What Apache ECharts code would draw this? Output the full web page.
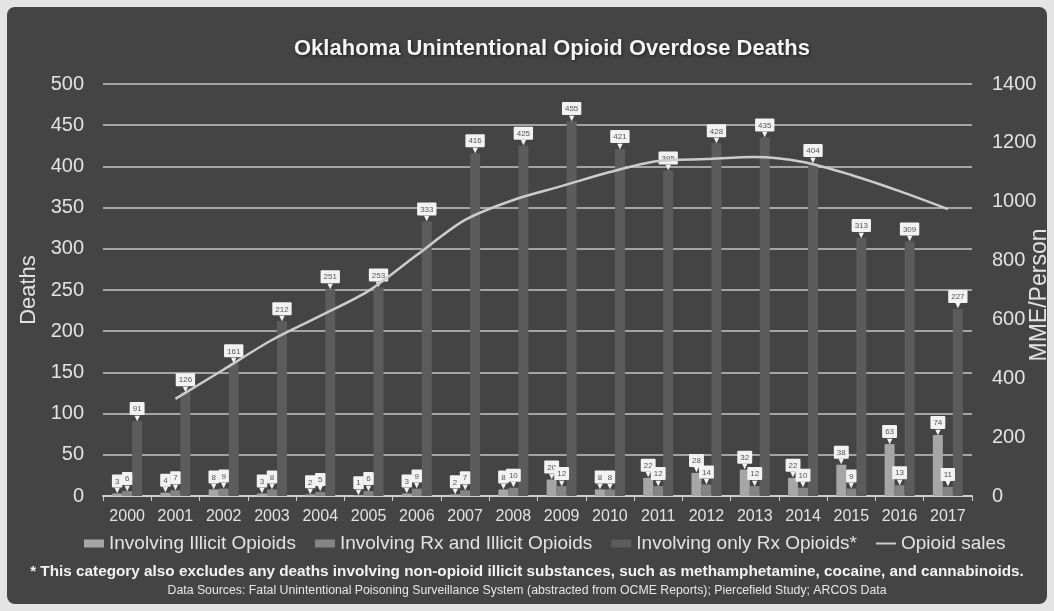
<!DOCTYPE html>
<html>
<head>
<meta charset="utf-8">
<script src="https://cdn.jsdelivr.net/npm/echarts@6/dist/echarts.min.js"></script>
<style>
  html, body { margin: 0; padding: 0; background: #e4e4e4; }
  #chart { width: 1054px; height: 611px; }
</style>
</head>
<body>
<div id="chart"></div>
<script>
// Years on the category axis
const years = ['2000', '2001', '2002', '2003', '2004', '2005', '2006', '2007', '2008',
               '2009', '2010', '2011', '2012', '2013', '2014', '2015', '2016', '2017'];

// Deaths per year, by substance category
const illicitOpioids = [3, 4, 8, 3, 2, 1, 3, 2, 8, 20, 8, 22, 28, 32, 22, 38, 63, 74];
const rxAndIllicit   = [6, 7, 9, 8, 5, 6, 9, 7, 10, 12, 8, 12, 14, 12, 10, 9, 13, 11];
const onlyRxOpioids  = [91, 126, 161, 212, 251, 253, 333, 416, 425, 455, 421, 395, 428, 435, 404, 313, 309, 227];

// Opioid sales, MME per person (right axis)
const opioidSales = [null, 330, 430, 530, 612, 697, 819, 938, 1006, 1053, 1101, 1138, 1145, 1152, 1135, 1091, 1036, 975];

// Axis ticks
const deathsMax = 500, deathsStep = 50;
const mmeMax = 1400, mmeStep = 200;

const textFont = 'Liberation Sans, Arial, sans-serif';
const tickColor = '#e2e2e2';

// White callout box with a small pointer under it
function callout() {
  return {
    show: true,
    position: 'top',
    distance: 0,
    formatter: p => '{box|' + p.value + '}\n{tip|▼}',
    rich: {
      box: {
        backgroundColor: '#f2f2f2',
        color: '#555',
        fontSize: 8,
        fontFamily: textFont,
        padding: [3, 3, 2, 3],
        borderRadius: 1,
        align: 'center'
      },
      tip: {
        color: '#f2f2f2',
        fontSize: 9,
        lineHeight: 6,
        align: 'center'
      }
    }
  };
}

const chart = echarts.init(document.getElementById('chart'), null, { renderer: 'canvas' });

chart.setOption({
  backgroundColor: '#e4e4e4',
  animation: false,
  graphic: [
    {
      type: 'rect',
      z: -10,
      shape: { x: 7, y: 7, width: 1040, height: 597, r: 8 },
      style: { fill: '#444444' }
    },
    {
      // right axis title
      type: 'text',
      x: 1028,
      y: 295,
      rotation: Math.PI / 2,
      style: {
        text: 'MME/Person',
        fill: tickColor,
        font: '23px ' + textFont,
        align: 'center',
        verticalAlign: 'top'
      }
    },
    {
      type: 'text',
      left: 'center',
      top: 564,
      style: {
        text: '* This category also excludes any deaths involving non-opioid illicit substances, such as methamphetamine, cocaine, and cannabinoids.',
        fill: '#f2f2f2',
        font: 'bold 15.3px ' + textFont
      }
    },
    {
      type: 'text',
      left: 'center',
      top: 585,
      style: {
        text: 'Data Sources: Fatal Unintentional Poisoning Surveillance System (abstracted from OCME Reports); Piercefield Study; ARCOS Data',
        fill: '#e6e6e6',
        font: '12.3px ' + textFont
      }
    }
  ],
  title: {
    text: 'Oklahoma Unintentional Opioid Overdose Deaths',
    left: 289,
    top: 33,
    textStyle: {
      color: '#f4f4f4',
      fontSize: 22,
      fontWeight: 'bold',
      fontFamily: textFont,
      textShadowColor: 'rgba(0,0,0,0.6)',
      textShadowBlur: 3,
      textShadowOffsetX: 1,
      textShadowOffsetY: 1
    }
  },
  legend: {
    bottom: 53,
    left: 79,
    itemWidth: 20,
    itemHeight: 8,
    itemGap: 19,
    textStyle: { color: '#e2e2e2', fontSize: 19, fontFamily: textFont },
    data: [
      { name: 'Involving Illicit Opioids', icon: 'rect' },
      { name: 'Involving Rx and Illicit Opioids', icon: 'rect' },
      { name: 'Involving only Rx Opioids*', icon: 'rect' },
      { name: 'Opioid sales', icon: 'path://M0,3 L20,3 L20,5 L0,5 Z' }
    ]
  },
  grid: { left: 103, right: 82, top: 84, bottom: 115, containLabel: false, outerBoundsMode: 'none' },
  xAxis: {
    type: 'category',
    data: years,
    axisLine: { lineStyle: { color: '#cfcfcf', width: 2 } },
    axisTick: { show: true, length: 5, lineStyle: { color: '#cfcfcf' } },
    axisLabel: { color: tickColor, fontSize: 16, fontFamily: textFont, margin: 13, interval: 0 }
  },
  yAxis: [
    {
      type: 'value',
      min: 0,
      max: deathsMax,
      interval: deathsStep,
      name: 'Deaths',
      nameLocation: 'middle',
      nameGap: 60,
      nameRotate: 90,
      nameTextStyle: { color: tickColor, fontSize: 22, fontFamily: textFont },
      axisLine: { show: false },
      axisTick: { show: false },
      axisLabel: { color: tickColor, fontSize: 20, fontFamily: textFont, margin: 19 },
      splitLine: { lineStyle: { color: '#c6c6c6', width: 1.5 } }
    },
    {
      type: 'value',
      min: 0,
      max: mmeMax,
      interval: mmeStep,
      axisLine: { show: false },
      axisTick: { show: false },
      axisLabel: { color: tickColor, fontSize: 20, fontFamily: textFont, margin: 20, formatter: v => String(v) },
      splitLine: { show: false }
    }
  ],
  series: [
    {
      name: 'Involving Illicit Opioids',
      type: 'bar',
      data: illicitOpioids,
      barWidth: 10,
      barGap: '0%',
      itemStyle: { color: '#a6a6a6' },
      label: callout(),
      z: 3
    },
    {
      name: 'Involving Rx and Illicit Opioids',
      type: 'bar',
      data: rxAndIllicit,
      barWidth: 10,
      barGap: '0%',
      itemStyle: { color: '#858585' },
      label: callout(),
      z: 3
    },
    {
      name: 'Involving only Rx Opioids*',
      type: 'bar',
      data: onlyRxOpioids,
      barWidth: 10,
      barGap: '0%',
      itemStyle: { color: '#5c5c5c' },
      label: callout(),
      z: 3
    },
    {
      name: 'Opioid sales',
      type: 'line',
      yAxisIndex: 1,
      data: opioidSales,
      symbol: 'none',
      smooth: 0.3,
      lineStyle: { color: '#cccccc', width: 2.5 },
      itemStyle: { color: '#cccccc' },
      z: 4
    }
  ]
});
</script>
</body>
</html>
